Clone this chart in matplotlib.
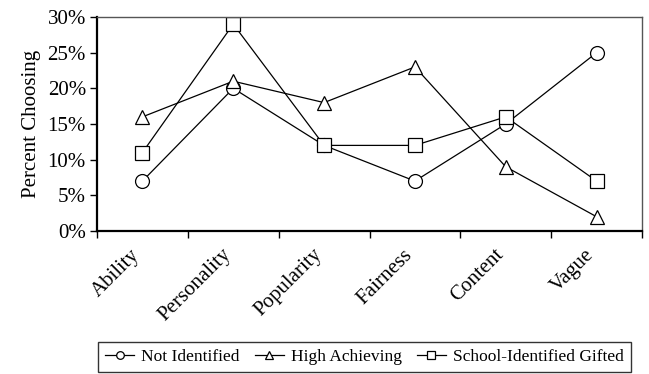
import matplotlib as mpl
mpl.use('Agg')
import matplotlib.pyplot as plt
import matplotlib.transforms as mtransforms
import numpy as np

categories = ['Ability', 'Personality', 'Popularity', 'Fairness', 'Content', 'Vague']
not_identified = [7, 20, 12, 7, 15, 25]
high_achieving = [16, 21, 18, 23, 9, 2]
school_gifted = [11, 29, 12, 12, 16, 7]
y_ticks = [0, 5, 10, 15, 20, 25, 30]

plt.rcParams['font.family'] = ['Liberation Serif', 'DejaVu Serif']

fig = plt.figure(figsize=(6.49, 3.74), dpi=100)
ax = fig.add_axes([97/649, 1-231/374, (642-97)/649, (231-17)/374])

x = np.arange(len(categories))
style = dict(color='black', lw=0.9, markersize=10, markerfacecolor='white',
             markeredgecolor='black', markeredgewidth=0.9)
ax.plot(x, not_identified, marker='o', label='Not Identified', **style)
ax.plot(x, high_achieving, marker='^', label='High Achieving', **style)
ax.plot(x, school_gifted, marker='s', label='School-Identified Gifted', **style)

ax.set_xlim(-0.5, len(categories) - 0.5)
ax.set_ylim(0, 30)
ax.set_yticks(y_ticks)
ax.set_yticklabels(['{}%'.format(t) for t in y_ticks], fontsize=15)
ax.set_ylabel('Percent Choosing', fontsize=15, labelpad=5)

# category labels sit between the tick marks
ax.set_xticks(np.arange(-0.5, len(categories)), minor=False)
ax.set_xticklabels([])
ax.set_xticks(x, minor=True)
ax.set_xticklabels(categories, minor=True, rotation=45, ha='right',
                   rotation_mode='anchor', fontsize=15)
ax.tick_params(axis='x', which='minor', length=0, pad=6)
ax.tick_params(axis='x', which='major', length=5, direction='out', width=1)
ax.tick_params(axis='y', length=5, direction='out', width=1, pad=3)

shift = mtransforms.ScaledTranslation(-12/100, -6/100, fig.dpi_scale_trans)
for lbl in ax.get_xticklabels(minor=True):
    lbl.set_transform(lbl.get_transform() + shift)

ax.spines['left'].set_linewidth(1.6)
ax.spines['bottom'].set_linewidth(1.6)
ax.spines['top'].set_color('#555555')
ax.spines['right'].set_color('#555555')
ax.spines['top'].set_linewidth(1.0)
ax.spines['right'].set_linewidth(1.0)

leg = fig.legend(loc='lower left', bbox_to_anchor=(98/649, 2/374, (631-98)/649, 31/374),
                 mode='expand', ncol=3, fontsize=12.5, frameon=True, fancybox=False,
                 edgecolor='black', handlelength=1.7, handletextpad=0.4,
                 columnspacing=1.0, borderaxespad=0, markerscale=0.55)
leg.get_frame().set_linewidth(1.0)

plt.savefig('out.png', dpi=100)
plt.close()
